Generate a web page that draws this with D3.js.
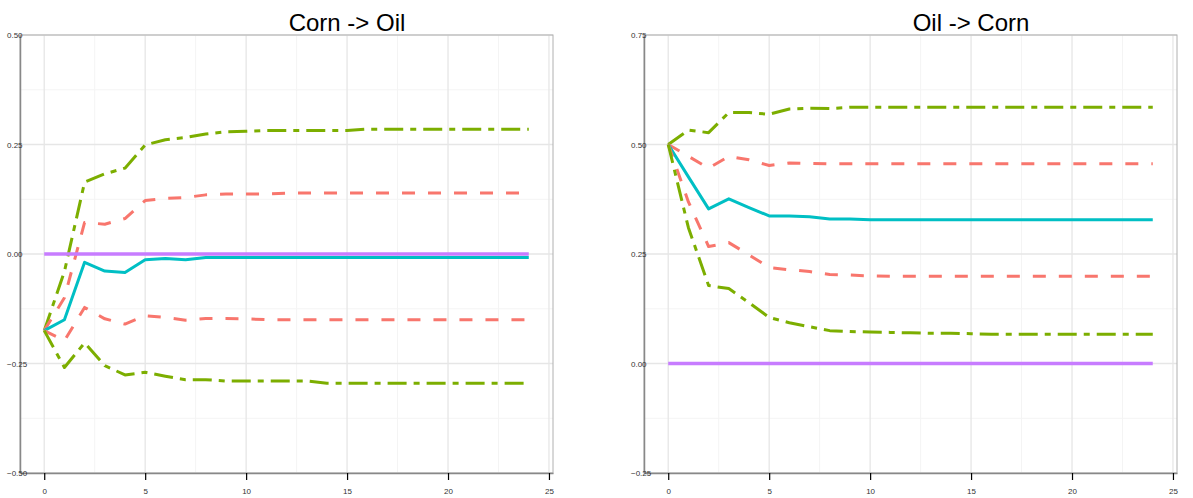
<!DOCTYPE html>
<html>
<head>
<meta charset="utf-8">
<script src="https://cdn.jsdelivr.net/npm/d3@7"></script>
<style>
  body { margin: 0; background: #fff; }
  text { font-family: "Liberation Sans", Arial, sans-serif; }
</style>
</head>
<body>
<script>
// horizon (periods ahead)
var horizon = d3.range(0, 25);

// Corn -> Oil
var cornOilIrf     = [-0.175, -0.150, -0.019, -0.039, -0.042, -0.013, -0.010, -0.013, -0.008, -0.008,
                      -0.008, -0.008, -0.008, -0.008, -0.008, -0.008, -0.008, -0.008, -0.008, -0.008,
                      -0.008, -0.008, -0.008, -0.008, -0.008];
var cornOilUpper95 = [-0.175, -0.040, 0.164, 0.183, 0.196, 0.249, 0.261, 0.266, 0.274, 0.279,
                      0.280, 0.282, 0.282, 0.282, 0.282, 0.282, 0.285, 0.285, 0.285, 0.285,
                      0.285, 0.285, 0.285, 0.285, 0.285];
var cornOilUpper68 = [-0.175, -0.100, 0.072, 0.068, 0.081, 0.122, 0.127, 0.129, 0.135, 0.137,
                      0.137, 0.137, 0.139, 0.139, 0.139, 0.139, 0.139, 0.139, 0.139, 0.139,
                      0.139, 0.139, 0.139, 0.139, 0.139];
var cornOilLower68 = [-0.175, -0.198, -0.122, -0.148, -0.160, -0.141, -0.145, -0.151, -0.147, -0.147,
                      -0.148, -0.150, -0.150, -0.150, -0.150, -0.150, -0.150, -0.150, -0.150, -0.150,
                      -0.150, -0.150, -0.150, -0.150, -0.150];
var cornOilLower95 = [-0.175, -0.259, -0.203, -0.255, -0.276, -0.270, -0.279, -0.287, -0.287, -0.290,
                      -0.290, -0.290, -0.290, -0.290, -0.295, -0.295, -0.295, -0.295, -0.295, -0.295,
                      -0.295, -0.295, -0.295, -0.295, -0.295];

// Oil -> Corn
var oilCornIrf     = [0.500, 0.426, 0.353, 0.376, 0.356, 0.337, 0.337, 0.335, 0.330, 0.330,
                      0.328, 0.328, 0.328, 0.328, 0.328, 0.328, 0.328, 0.328, 0.328, 0.328,
                      0.328, 0.328, 0.328, 0.328, 0.328];
var oilCornUpper95 = [0.500, 0.533, 0.527, 0.573, 0.573, 0.569, 0.581, 0.583, 0.582, 0.585,
                      0.585, 0.585, 0.585, 0.585, 0.585, 0.585, 0.585, 0.585, 0.585, 0.585,
                      0.585, 0.585, 0.585, 0.585, 0.585];
var oilCornUpper68 = [0.500, 0.473, 0.446, 0.473, 0.465, 0.452, 0.458, 0.457, 0.456, 0.456,
                      0.456, 0.456, 0.456, 0.456, 0.456, 0.456, 0.456, 0.456, 0.456, 0.456,
                      0.456, 0.456, 0.456, 0.456, 0.456];
var oilCornLower68 = [0.500, 0.369, 0.267, 0.276, 0.248, 0.219, 0.214, 0.210, 0.203, 0.202,
                      0.200, 0.199, 0.199, 0.199, 0.199, 0.199, 0.199, 0.199, 0.199, 0.199,
                      0.199, 0.199, 0.199, 0.199, 0.199];
var oilCornLower95 = [0.500, 0.310, 0.178, 0.171, 0.139, 0.105, 0.093, 0.084, 0.075, 0.073,
                      0.072, 0.071, 0.070, 0.069, 0.069, 0.068, 0.067, 0.067, 0.067, 0.067,
                      0.067, 0.067, 0.067, 0.067, 0.067];

var zeroLine = horizon.map(function () { return 0; });

var xTicks = [0, 5, 10, 15, 20, 25];
var xMinor = [2.5, 7.5, 12.5, 17.5, 22.5];

var panels = [
  { title: "Corn -> Oil", left: 20, right: 553, titleX: 347,
    yDomain: [-0.5, 0.5], yTicks: [-0.5, -0.25, 0, 0.25, 0.5], yMinor: [-0.375, -0.125, 0.125, 0.375],
    series: [cornOilUpper95, cornOilUpper68, cornOilIrf, cornOilLower68, cornOilLower95] },
  { title: "Oil -> Corn", left: 644, right: 1177, titleX: 971,
    yDomain: [-0.25, 0.75], yTicks: [-0.25, 0, 0.25, 0.5, 0.75], yMinor: [-0.125, 0.125, 0.375, 0.625],
    series: [oilCornUpper95, oilCornUpper68, oilCornIrf, oilCornLower68, oilCornLower95] }
];

var styles = [
  { color: "#7CAE00", dash: "19,7,6,7" },
  { color: "#F8766D", dash: "13,13" },
  { color: "#00BFC4", dash: null },
  { color: "#F8766D", dash: "13,13" },
  { color: "#7CAE00", dash: "19,7,6,7" }
];

var plotTop = 35, plotBottom = 473;

var svg = d3.select("body").append("svg")
  .attr("width", 1193)
  .attr("height", 498);

panels.forEach(function (p) {
  var x = d3.scaleLinear().domain([-1.2, 25.2]).range([p.left, p.right]);
  var y = d3.scaleLinear().domain(p.yDomain).range([plotBottom, plotTop]);
  var g = svg.append("g");

  // minor grid
  g.selectAll(".xminor").data(xMinor).enter().append("line")
    .attr("x1", function (d) { return x(d); }).attr("x2", function (d) { return x(d); })
    .attr("y1", plotTop).attr("y2", plotBottom)
    .style("stroke", "#f4f4f4").style("stroke-width", 1);
  g.selectAll(".yminor").data(p.yMinor).enter().append("line")
    .attr("x1", p.left).attr("x2", p.right)
    .attr("y1", function (d) { return y(d); }).attr("y2", function (d) { return y(d); })
    .style("stroke", "#f4f4f4").style("stroke-width", 1);

  // major grid
  g.selectAll(".xmajor").data(xTicks).enter().append("line")
    .attr("x1", function (d) { return x(d); }).attr("x2", function (d) { return x(d); })
    .attr("y1", plotTop).attr("y2", plotBottom)
    .style("stroke", "#e6e6e6").style("stroke-width", 1.3);
  g.selectAll(".ymajor").data(p.yTicks).enter().append("line")
    .attr("x1", p.left).attr("x2", p.right)
    .attr("y1", function (d) { return y(d); }).attr("y2", function (d) { return y(d); })
    .style("stroke", "#e6e6e6").style("stroke-width", 1.3);

  // series
  var line = d3.line()
    .x(function (d, i) { return x(horizon[i]); })
    .y(function (d) { return y(d); });

  p.series.forEach(function (s, k) {
    g.append("path")
      .datum(s)
      .attr("d", line)
      .style("fill", "none")
      .style("stroke", styles[k].color)
      .style("stroke-width", 3)
      .style("stroke-dasharray", styles[k].dash)
      .style("stroke-linejoin", "round");
  });

  g.append("path")
    .datum(zeroLine)
    .attr("d", line)
    .style("fill", "none")
    .style("stroke", "#C77CFF")
    .style("stroke-width", 3.5);

  // frame
  g.append("rect")
    .attr("x", p.left).attr("y", plotTop)
    .attr("width", p.right - p.left).attr("height", plotBottom - plotTop)
    .style("fill", "none").style("stroke", "#b0b0b0").style("stroke-width", 1);

  // x axis
  var xa = g.append("g")
    .attr("transform", "translate(0," + plotBottom + ")")
    .call(d3.axisBottom(x).tickValues(xTicks).tickSizeInner(7).tickSizeOuter(0)
      .tickPadding(8).tickFormat(d3.format("d")));
  xa.select(".domain").style("stroke", "#888").style("stroke-width", 1.5);
  xa.selectAll(".tick line").style("stroke", "#000").style("stroke-width", 1.2);
  xa.selectAll("text").style("font-size", "8px").style("fill", "#333")
    .style("font-family", "'Liberation Sans', Arial, sans-serif");

  // y axis
  var ya = g.append("g")
    .attr("transform", "translate(" + p.left + ",0)")
    .call(d3.axisLeft(y).tickValues(p.yTicks).tickSize(0).tickFormat(d3.format(".2f")));
  ya.select(".domain").style("stroke", "#888").style("stroke-width", 1.5);
  ya.selectAll("text")
    .attr("x", -13)
    .attr("text-anchor", "start")
    .style("font-size", "8px").style("fill", "#333")
    .style("font-family", "'Liberation Sans', Arial, sans-serif");

  // title
  svg.append("text")
    .attr("x", p.titleX)
    .attr("y", 31)
    .attr("text-anchor", "middle")
    .style("font-size", "24px")
    .style("fill", "#000")
    .text(p.title);
});
</script>
</body>
</html>
